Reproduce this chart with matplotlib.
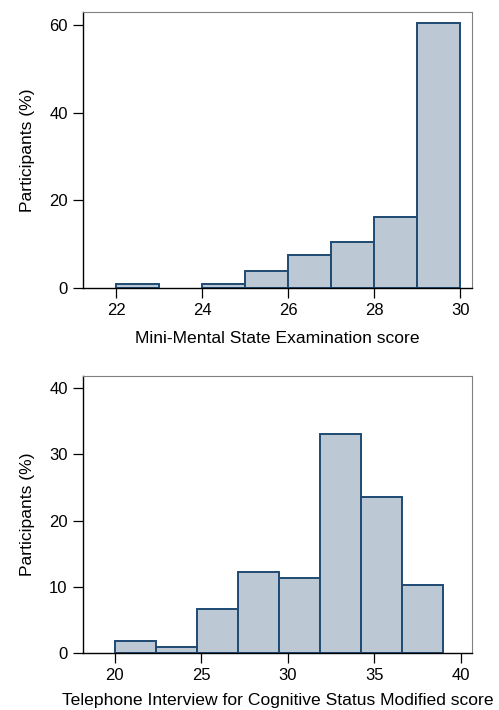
import matplotlib.pyplot as plt
import numpy as np

plt.rcParams["font.family"] = ["Liberation Sans", "DejaVu Sans"]

# MMSE histogram (bin width 1)
mmse_edges = [22, 23, 24, 25, 26, 27, 28, 29, 30]
mmse_pct = [1.0, 0.0, 1.0, 3.8, 7.6, 10.4, 16.1, 60.5]

# TICS-M histogram (8 bins from 20 to 39)
tics_edges = list(np.linspace(20, 39, 9))
tics_pct = [1.86, 0.96, 6.64, 12.28, 11.32, 33.06, 23.65, 10.31]

FILL = "#bcc8d3"
EDGE = "#1e4a73"


def draw_hist(ax, edges, pct, xlim, ylim, xticks, yticks, xlabel, xpad):
    left = np.array(edges[:-1])
    width = np.diff(edges)
    heights = np.array(pct)
    keep = heights > 0
    ax.bar(left[keep], heights[keep], width=width[keep], align="edge",
           color=FILL, edgecolor=EDGE, linewidth=1.4, zorder=2)
    ax.set_xlim(*xlim)
    ax.set_ylim(*ylim)
    ax.set_xticks(xticks)
    ax.set_yticks(yticks)
    ax.tick_params(direction="out", length=7, width=0.9, labelsize=12, pad=4)
    ax.set_xlabel(xlabel, fontsize=12.6, labelpad=xpad)
    ax.set_ylabel("Participants (%)", fontsize=12.6, labelpad=10)
    for s in ["top", "right"]:
        ax.spines[s].set_color("#808080")
        ax.spines[s].set_linewidth(0.8)
    for s in ["left", "bottom"]:
        ax.spines[s].set_color("black")
        ax.spines[s].set_linewidth(1.0)


fig = plt.figure(figsize=(4.99, 7.10), dpi=100)
W, H = 499, 710
ax1 = fig.add_axes([83 / W, 1 - 288 / H, (472 - 83) / W, (288 - 12) / H])
ax2 = fig.add_axes([83 / W, 1 - 653 / H, (472 - 83) / W, (653 - 376) / H])

draw_hist(ax1, mmse_edges, mmse_pct, (21.23, 30.27), (0, 62.96),
          [22, 24, 26, 28, 30], [0, 20, 40, 60],
          "Mini-Mental State Examination score", 9)
draw_hist(ax2, tics_edges, tics_pct, (18.17, 40.66), (0, 41.86),
          [20, 25, 30, 35, 40], [0, 10, 20, 30, 40],
          "Telephone Interview for Cognitive Status Modified score", 7)

fig.savefig("out.png", dpi=100)
